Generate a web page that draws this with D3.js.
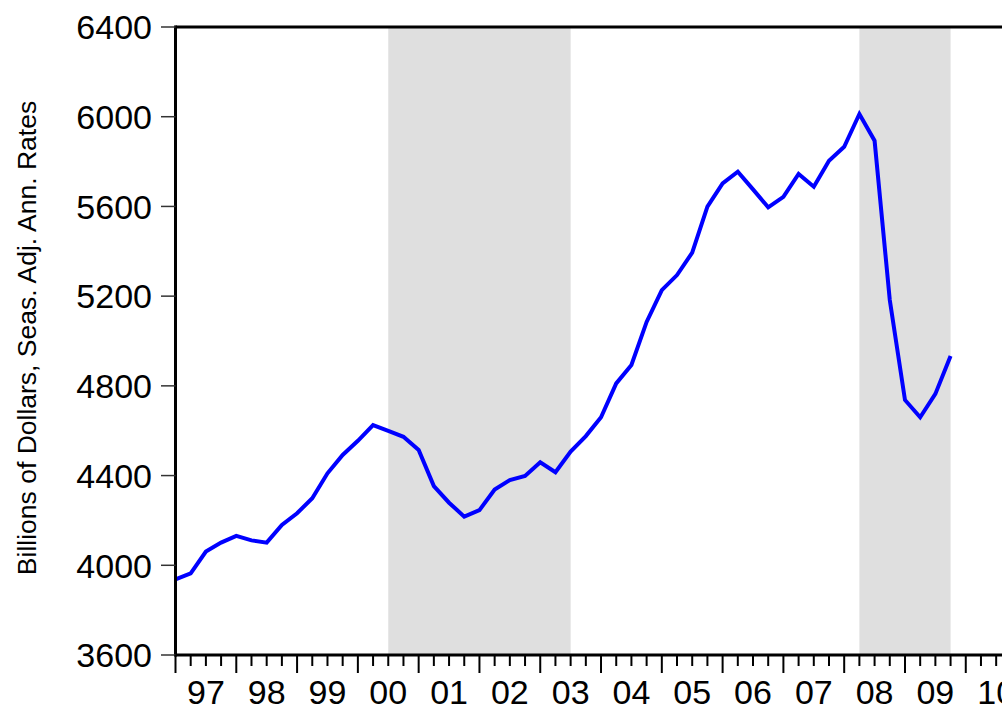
<!DOCTYPE html>
<html>
<head>
<meta charset="UTF-8"/>
<script src="https://cdn.jsdelivr.net/npm/d3@7"></script>
<style>
  body { margin: 0; background: #fff; }
  text { font-family: "Liberation Sans", Arial, sans-serif; }
</style>
</head>
<body>
<script>
// quarterly series, 1997Q1 .. 2009Q4
const startYear = 1997;
const values = [
  3937, 3964, 4061, 4101, 4131, 4111, 4101, 4180,   // 97-98
  4232, 4299, 4410, 4492, 4555, 4625, 4599, 4573,   // 99-00
  4514, 4353, 4279, 4217, 4246, 4338, 4380, 4398,   // 01-02
  4459, 4415, 4507, 4576, 4660, 4811, 4893, 5085,   // 03-04
  5227, 5294, 5394, 5599, 5703, 5755, 5676, 5596,   // 05-06
  5643, 5745, 5688, 5804, 5866, 6012, 5893, 5183,   // 07-08
  4737, 4660, 4764, 4933                            // 09
];

// shaded periods (decimal years)
const shadeStart = [2000.5, 2008.25];
const shadeEnd = [2003.5, 2009.75];

const yTicks = [3600, 4000, 4400, 4800, 5200, 5600, 6000, 6400];
const xYears = d3.range(1997, 2011);
const yearLabels = ["97","98","99","00","01","02","03","04","05","06","07","08","09","10"];

const W = 1002, H = 707;
const plotLeft = 175.5, plotTop = 27, plotBottom = 655;
const yearW = 60.79;

const svg = d3.select("body").append("svg")
  .attr("width", W)
  .attr("height", H);

const x = d3.scaleLinear().domain([1997, 2011]).range([plotLeft, plotLeft + 14 * yearW]);
const y = d3.scaleLinear().domain([3600, 6400]).range([plotBottom, plotTop]);

// recession shading
svg.selectAll("rect.shade")
  .data(shadeStart)
  .enter().append("rect")
  .attr("class", "shade")
  .attr("x", d => x(d))
  .attr("y", plotTop)
  .attr("width", (d, i) => x(shadeEnd[i]) - x(d))
  .attr("height", plotBottom - plotTop)
  .attr("fill", "#dfdfdf");

// series line
const line = d3.line()
  .x((d, i) => x(startYear + i / 4))
  .y(d => y(d));

svg.append("path")
  .datum(values)
  .attr("fill", "none")
  .attr("stroke", "#0000ff")
  .attr("stroke-width", 4)
  .attr("stroke-linejoin", "miter")
  .attr("d", line);

// frame: left axis, top line, bottom axis
svg.append("line").attr("x1", plotLeft).attr("x2", plotLeft).attr("y1", plotTop - 1.5).attr("y2", plotBottom + 1.5)
  .attr("stroke", "#000").attr("stroke-width", 3);
svg.append("line").attr("x1", plotLeft).attr("x2", W).attr("y1", plotTop).attr("y2", plotTop)
  .attr("stroke", "#000").attr("stroke-width", 3);
svg.append("line").attr("x1", plotLeft).attr("x2", W).attr("y1", plotBottom).attr("y2", plotBottom)
  .attr("stroke", "#000").attr("stroke-width", 3);

// y ticks + labels
const yg = svg.append("g");
yg.selectAll("line")
  .data(yTicks)
  .enter().append("line")
  .attr("x1", 161).attr("x2", plotLeft)
  .attr("y1", d => y(d)).attr("y2", d => y(d))
  .attr("stroke", "#333").attr("stroke-width", 1.5);
yg.selectAll("text")
  .data(yTicks)
  .enter().append("text")
  .attr("x", 152)
  .attr("y", d => y(d))
  .attr("dy", "0.36em")
  .attr("text-anchor", "end")
  .attr("font-size", 34)
  .attr("fill", "#000")
  .text(d => d);

// x ticks (quarters) + year labels
const quarters = d3.range(0, 14 * 4 + 1).map(q => 1997 + q / 4);
svg.append("g").selectAll("line")
  .data(quarters)
  .enter().append("line")
  .attr("x1", d => x(d)).attr("x2", d => x(d))
  .attr("y1", plotBottom)
  .attr("y2", (d, i) => i % 4 === 0 ? 673 : 666)
  .attr("stroke", "#000").attr("stroke-width", 2);

svg.append("g").selectAll("text")
  .data(xYears)
  .enter().append("text")
  .attr("x", d => x(d + 0.5))
  .attr("y", 704)
  .attr("text-anchor", "middle")
  .attr("font-size", 34)
  .attr("fill", "#000")
  .text((d, i) => yearLabels[i]);

// y axis title
svg.append("text")
  .attr("transform", "translate(36,338) rotate(-90)")
  .attr("text-anchor", "middle")
  .attr("font-size", 26.5)
  .attr("fill", "#000")
  .text("Billions of Dollars, Seas. Adj. Ann. Rates");
</script>
</body>
</html>
